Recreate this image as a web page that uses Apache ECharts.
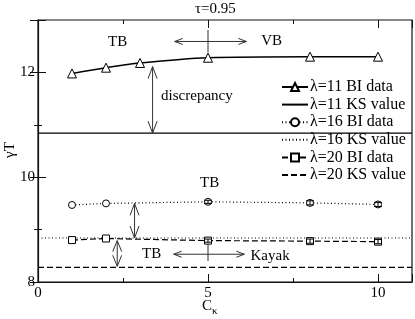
<!DOCTYPE html>
<html><head><meta charset="utf-8">
<script src="https://cdn.jsdelivr.net/npm/echarts@6/dist/echarts.min.js"></script>
<style>html,body{margin:0;padding:0;background:#fff}#c{width:415px;height:319px}</style>
</head><body><div id="c"></div>
<script>
// ---- data ----
const ck11 = [1, 2, 3, 5, 8, 10];
const bi11 = [11.98, 12.09, 12.18, 12.28, 12.30, 12.30];
const ck16 = [1, 2, 5, 8, 10];
const bi16 = [9.47, 9.50, 9.53, 9.51, 9.48];
const err16 = [0, 0, 0.03, 0.04, 0.04];
const ck20 = [1, 2, 5, 8, 10];
const bi20 = [8.80, 8.83, 8.79, 8.78, 8.77];
const err20 = [0, 0, 0.03, 0.04, 0.04];
const ksValues = [10.84, 8.84, 8.28];
const seriesNames = ['λ=11 BI data', 'λ=11 KS value', 'λ=16 BI data', 'λ=16 KS value', 'λ=20 BI data', 'λ=20 KS value'];
const xTickLabels = [0, 5, 10];
const yTickLabels = [8, 10, 12];
const xRange = [0, 11];
const yRange = [8, 13];

const FONT = 'Liberation Serif';
const chart = echarts.init(document.getElementById('c'), null, {renderer: 'canvas'});

function pairs(xs, ys) { return xs.map((x, i) => [x, ys[i]]); }
function ksLine(v) { return [[xRange[0], v], [xRange[1], v]]; }

function xAx(pos, interval, len, labels) {
  return {
    type: 'value', min: xRange[0], max: xRange[1], interval: interval, position: pos,
    axisLine: {show: labels, lineStyle: {color: '#111', width: 1.2}},
    axisTick: {show: true, inside: true, length: len, lineStyle: {color: '#111', width: 1}},
    axisLabel: {show: labels, color: '#000', fontFamily: FONT, fontSize: 15, margin: 4,
      formatter: v => xTickLabels.indexOf(v) >= 0 ? String(v) : ''},
    splitLine: {show: false}
  };
}
function yAx(pos, interval, len, labels) {
  return {
    type: 'value', min: yRange[0], max: yRange[1], interval: interval, position: pos,
    axisLine: {show: labels, lineStyle: {color: '#111', width: 1.2}},
    axisTick: {show: true, inside: true, length: len, lineStyle: {color: '#111', width: 1}},
    axisLabel: {show: labels && pos === 'left', color: '#000', fontFamily: FONT, fontSize: 15, margin: 3,
      formatter: v => yTickLabels.indexOf(v) >= 0 ? String(v) : ''},
    splitLine: {show: false}
  };
}

function arrowHead(tip, from, len, half) {
  const dx = tip[0] - from[0], dy = tip[1] - from[1];
  const d = Math.sqrt(dx * dx + dy * dy) || 1;
  const ux = dx / d, uy = dy / d;
  const bx = tip[0] - ux * len, by = tip[1] - uy * len;
  return [[bx - uy * half, by + ux * half], tip, [bx + uy * half, by - ux * half]];
}

// annotations in data coordinates
const arrows = [
  {from: [5, 12.59], to: [4.02, 12.59], heads: 'end', len: 8, half: 3},
  {from: [5, 12.59], to: [6.13, 12.59], heads: 'end', len: 8, half: 3},
  {from: [5, 12.81], to: [5, 12.38], heads: 'none'},
  {from: [3.37, 12.11], to: [3.37, 10.84], heads: 'both', len: 12, half: 4.5},
  {from: [2.84, 9.50], to: [2.84, 8.84], heads: 'both', len: 12, half: 4.5},
  {from: [2.33, 8.79], to: [2.33, 8.30], heads: 'both', len: 11, half: 4.5},
  {from: [5, 8.53], to: [3.99, 8.53], heads: 'end', len: 8, half: 3},
  {from: [5, 8.53], to: [6.07, 8.53], heads: 'end', len: 8, half: 3},
  {from: [5, 8.79], to: [5, 8.40], heads: 'none'}
];
const labels = [
  {p: [2.34, 12.57], t: 'TB', align: 'center'},
  {p: [6.87, 12.60], t: 'VB', align: 'center'},
  {p: [3.62, 11.55], t: 'discrepancy', align: 'left'},
  {p: [5.05, 9.88], t: 'TB', align: 'center'},
  {p: [3.34, 8.53], t: 'TB', align: 'center'},
  {p: [6.25, 8.50], t: 'Kayak', align: 'left'}
];

function annotRender(params, api) {
  const children = [];
  arrows.forEach(a => {
    const p0 = api.coord(a.from), p1 = api.coord(a.to);
    children.push({type: 'line', shape: {x1: p0[0], y1: p0[1], x2: p1[0], y2: p1[1]}, style: {stroke: '#333', lineWidth: 1}});
    if (a.heads === 'end' || a.heads === 'both') {
      children.push({type: 'polyline', shape: {points: arrowHead(p1, p0, a.len, a.half)}, style: {stroke: '#333', fill: null, lineWidth: 1}});
    }
    if (a.heads === 'both') {
      children.push({type: 'polyline', shape: {points: arrowHead(p0, p1, a.len, a.half)}, style: {stroke: '#333', fill: null, lineWidth: 1}});
    }
  });
  labels.forEach(l => {
    const p = api.coord(l.p);
    children.push({type: 'text', x: p[0], y: p[1], style: {text: l.t, fill: '#000', font: '15px "' + FONT + '"', align: l.align, verticalAlign: 'middle'}});
  });
  return {type: 'group', children: children};
}

function errRender(xs, ys, es) {
  return function (params, api) {
    const i = params.dataIndex;
    if (!es[i]) return null;
    const lo = api.coord([xs[i], ys[i] - es[i]]), hi = api.coord([xs[i], ys[i] + es[i]]);
    return {type: 'group', children: [
      {type: 'line', shape: {x1: lo[0], y1: lo[1], x2: hi[0], y2: hi[1]}, style: {stroke: '#000', lineWidth: 1}},
      {type: 'line', shape: {x1: lo[0] - 4, y1: lo[1], x2: lo[0] + 4, y2: lo[1]}, style: {stroke: '#000', lineWidth: 1}},
      {type: 'line', shape: {x1: hi[0] - 4, y1: hi[1], x2: hi[0] + 4, y2: hi[1]}, style: {stroke: '#000', lineWidth: 1}}
    ]};
  };
}

const openMarker = {color: '#fff', borderColor: '#000', borderWidth: 1};
const noMarker = {color: 'rgba(0,0,0,0)', borderWidth: 0};

const option = {
  animation: false,
  backgroundColor: '#fff',
  grid: {left: 38, top: 20, right: 3, bottom: 37, show: true, borderColor: '#111', borderWidth: 1.2, containLabel: false},
  xAxis: [xAx('bottom', 2.5, 4, true), xAx('bottom', 5, 8, false), xAx('top', 2.5, 4, false), xAx('top', 5, 8, false)],
  yAxis: [yAx('left', 1, 4, true), yAx('left', 2, 8, false), yAx('right', 1, 4, false), yAx('right', 2, 8, false)],
  legend: {
    orient: 'vertical', left: 281, top: 79, itemWidth: 26, itemHeight: 10, itemGap: 1.6, padding: 0,
    data: seriesNames.map((n, i) => i % 2 === 1 ? {name: n, itemStyle: noMarker} : {name: n}),
    textStyle: {fontFamily: FONT, fontSize: 16, color: '#000', padding: [0, 0, 0, -3]},
    inactiveColor: '#000'
  },
  graphic: [
    {type: 'text', left: 195, top: 2, style: {text: 'τ=0.95', font: '15px "' + FONT + '"', fill: '#000'}},
    {type: 'text', left: 202, top: 299, style: {text: 'C', font: '15px "' + FONT + '"', fill: '#000'}},
    {type: 'text', left: 212, top: 306, style: {text: 'κ', font: '11px "' + FONT + '"', fill: '#000'}},
    {type: 'text', x: 10, y: 150, rotation: Math.PI / 2, style: {text: 'γT', font: '15px "' + FONT + '"', fill: '#000', align: 'center', verticalAlign: 'middle'}}
  ],
  series: [
    {name: seriesNames[0], type: 'line', data: pairs(ck11, bi11), smooth: 0.3, symbol: 'triangle', symbolSize: 9,
      itemStyle: openMarker, lineStyle: {color: '#000', width: 1.4}, z: 5},
    {name: seriesNames[1], type: 'line', data: ksLine(ksValues[0]), showSymbol: false, symbol: 'none',
      itemStyle: {color: '#000'}, lineStyle: {color: '#000', width: 1.3}},
    {name: seriesNames[2], type: 'line', data: pairs(ck16, bi16), symbol: 'circle', symbolSize: 7,
      itemStyle: openMarker, lineStyle: {color: '#000', width: 1.2, type: [1, 2.5]}, z: 5},
    {name: seriesNames[3], type: 'line', data: ksLine(ksValues[1]), showSymbol: false, symbol: 'none',
      itemStyle: {color: '#000'}, lineStyle: {color: '#000', width: 1.2, type: [1, 2.5]}},
    {name: seriesNames[4], type: 'line', data: pairs(ck20, bi20), symbol: 'rect', symbolSize: 7,
      itemStyle: openMarker, lineStyle: {color: '#000', width: 1.2, type: [6, 3]}, z: 5},
    {name: seriesNames[5], type: 'line', data: ksLine(ksValues[2]), showSymbol: false, symbol: 'none',
      itemStyle: {color: '#000'}, lineStyle: {color: '#000', width: 1.2, type: [6, 3]}},
    {type: 'custom', data: pairs(ck16, bi16), renderItem: errRender(ck16, bi16, err16), z: 6, silent: true},
    {type: 'custom', data: pairs(ck20, bi20), renderItem: errRender(ck20, bi20, err20), z: 6, silent: true},
    {type: 'custom', data: [[0, 8]], renderItem: annotRender, z: 4, silent: true}
  ]
};
chart.setOption(option);
</script>
</body></html>
